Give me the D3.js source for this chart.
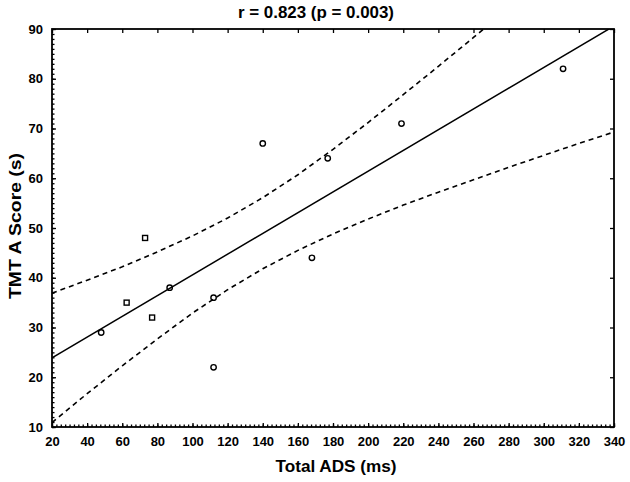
<!DOCTYPE html>
<html>
<head>
<meta charset="utf-8">
<script src="https://cdn.jsdelivr.net/npm/d3@7/dist/d3.min.js"></script>
<style>
  html, body { margin: 0; padding: 0; background: #fff; }
  svg { display: block; }
  text { font-family: "Liberation Sans", Arial, sans-serif; font-weight: bold; fill: #000; }
</style>
</head>
<body>
<svg id="chart" width="630" height="482"></svg>
<script>
// ---- data ----
const titleText = "r = 0.823 (p = 0.003)";
const xTitle = "Total ADS (ms)";
const yTitle = "TMT A Score (s)";

const pointsX = [48, 62.5, 73, 77, 87, 112, 112, 140, 168, 177, 219, 311];
const pointsY = [29, 35, 48, 32, 38, 36, 22, 67, 44, 64, 71, 82];
const pointShape = ["circle", "square", "square", "square", "circle", "circle", "circle", "circle", "circle", "circle", "circle", "circle"];

const fitX = [20, 340];
const fitY = [23.9, 90.6];

const bandX = [20, 40, 60, 80, 100, 120, 140, 160, 180, 200, 220, 240, 260, 280, 300, 320, 340];
const bandUpper = [36.9, 39.5, 42.2, 45.2, 48.4, 52.0, 56.1, 60.7, 65.8, 71.2, 76.8, 82.5, 88.3, 94.2, 100.1, 106.1, 112.1];
const bandLower = [10.9, 16.7, 22.3, 27.7, 32.9, 37.6, 41.8, 45.5, 48.8, 51.8, 54.6, 57.2, 59.7, 62.2, 64.6, 67.0, 69.3];

const xTicks = d3.range(20, 341, 20);
const yTicks = d3.range(10, 91, 10);

// ---- layout ----
const svg = d3.select("#chart");
const L = 52, R = 614, T = 29, B = 427;
const x = d3.scaleLinear().domain([20, 340]).range([L, R]);
const y = d3.scaleLinear().domain([10, 90]).range([B, T]);

svg.append("defs").append("clipPath").attr("id", "clip")
  .append("rect").attr("x", L).attr("y", T).attr("width", R - L).attr("height", B - T);

const plot = svg.append("g").attr("clip-path", "url(#clip)");

// confidence bands
const line = d3.line().x(d => x(d[0])).y(d => y(d[1]));
plot.append("path")
  .attr("d", line(bandX.map((v, i) => [v, bandUpper[i]])))
  .attr("fill", "none").attr("stroke", "#000").attr("stroke-width", 1.6)
  .attr("stroke-dasharray", "5,4");
plot.append("path")
  .attr("d", line(bandX.map((v, i) => [v, bandLower[i]])))
  .attr("fill", "none").attr("stroke", "#000").attr("stroke-width", 1.6)
  .attr("stroke-dasharray", "5,4");

// fit line
plot.append("path")
  .attr("d", line(fitX.map((v, i) => [v, fitY[i]])))
  .attr("fill", "none").attr("stroke", "#000").attr("stroke-width", 1.5);

// points
pointsX.forEach((v, i) => {
  if (pointShape[i] === "square") {
    plot.append("rect")
      .attr("x", x(v) - 2.5).attr("y", y(pointsY[i]) - 2.5)
      .attr("width", 5).attr("height", 5)
      .attr("fill", "none").attr("stroke", "#000").attr("stroke-width", 1.4);
  } else {
    plot.append("circle")
      .attr("cx", x(v)).attr("cy", y(pointsY[i])).attr("r", 2.7)
      .attr("fill", "none").attr("stroke", "#000").attr("stroke-width", 1.4);
  }
});

// axes (ticks inside)
svg.append("g").attr("transform", `translate(0,${B})`)
  .call(d3.axisBottom(x).tickValues(d3.range(20, 341, 2.5)).tickSize(-2.5).tickFormat(""));
svg.append("g").attr("transform", `translate(0,${B})`)
  .call(d3.axisBottom(x).tickValues(xTicks).tickSize(-4).tickPadding(10).tickFormat(d3.format("d")));
svg.append("g").attr("transform", `translate(0,${T})`)
  .call(d3.axisTop(x).tickValues(xTicks).tickSize(-4).tickFormat(""));
svg.append("g").attr("transform", `translate(${L},0)`)
  .call(d3.axisLeft(y).tickValues(d3.range(10, 91, 1)).tickSize(-2.5).tickFormat(""));
svg.append("g").attr("transform", `translate(${L},0)`)
  .call(d3.axisLeft(y).tickValues(yTicks).tickSize(-4).tickPadding(9).tickFormat(d3.format("d")));
svg.append("g").attr("transform", `translate(${R},0)`)
  .call(d3.axisRight(y).tickValues(yTicks).tickSize(-4).tickFormat(""));

svg.selectAll(".domain").remove();
svg.selectAll(".tick line").attr("stroke", "#000").attr("stroke-width", 1.3);
svg.selectAll(".tick text").attr("font-size", 13).attr("font-family", "Liberation Sans, Arial, sans-serif").attr("font-weight", "bold").attr("fill", "#000");

// frame
svg.append("rect").attr("x", L).attr("y", T).attr("width", R - L).attr("height", B - T)
  .attr("fill", "none").attr("stroke", "#000").attr("stroke-width", 1.8);

// titles
svg.append("text").attr("x", 316).attr("y", 18).attr("text-anchor", "middle")
  .attr("font-size", 16).attr("textLength", 156).attr("lengthAdjust", "spacingAndGlyphs").text(titleText);
svg.append("text").attr("x", 336).attr("y", 472).attr("text-anchor", "middle")
  .attr("font-size", 16).attr("textLength", 121).attr("lengthAdjust", "spacingAndGlyphs").text(xTitle);
svg.append("text").attr("transform", `translate(21,226) rotate(-90)`)
  .attr("text-anchor", "middle").attr("font-size", 16).attr("textLength", 146).attr("lengthAdjust", "spacingAndGlyphs").text(yTitle);
</script>
</body>
</html>
